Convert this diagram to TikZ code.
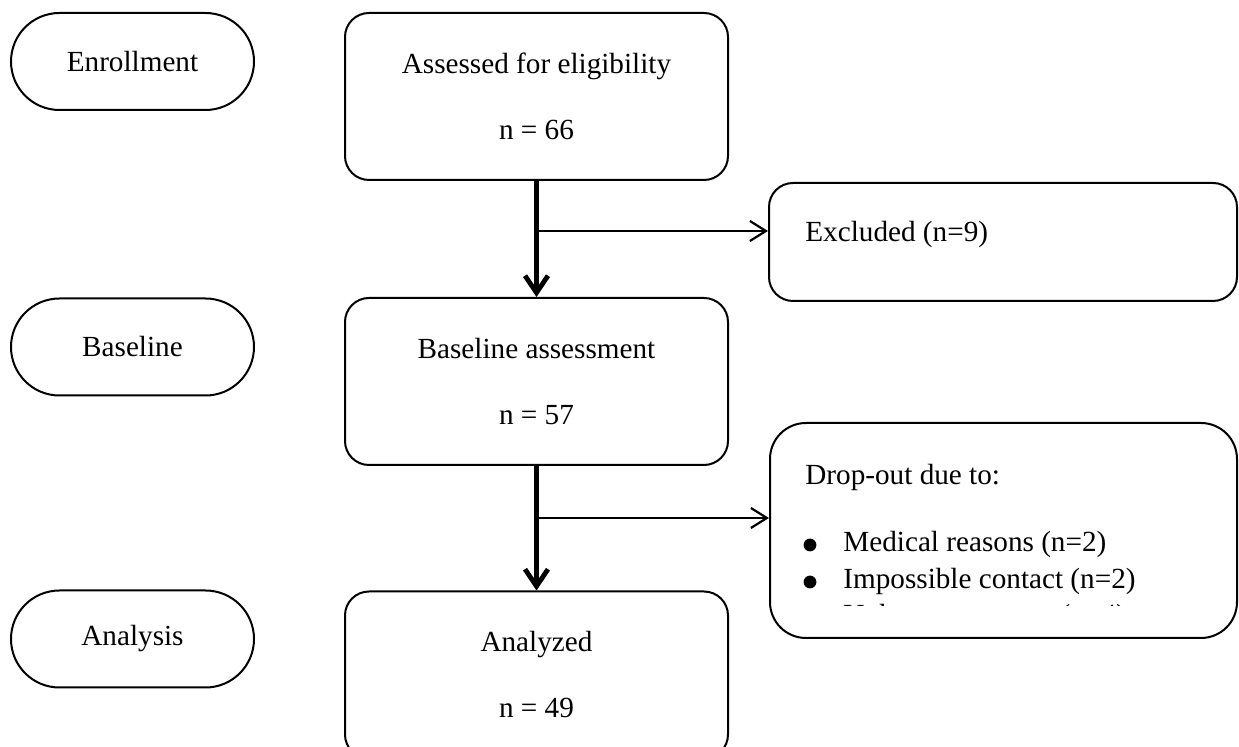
\documentclass[tikz,border=0pt]{standalone}
\usepackage{fontspec}
\setmainfont{Liberation Serif}
\usetikzlibrary{arrows.meta,shapes.misc}
\begin{document}
\begin{tikzpicture}[x=0.5pt,y=-0.5pt,
  every node/.style={font=\fontsize{14.6}{33}\selectfont, inner sep=0pt},
  stage/.style={draw, line width=1pt, rounded rectangle,
    minimum width=121.5pt, minimum height=48.5pt},
  mainbox/.style={draw, line width=1pt, rounded corners=12pt, align=center,
    minimum width=191.5pt, minimum height=83.5pt},
  sidebox/.style={draw, line width=1pt, rounded corners=12pt},
  flow/.style={line width=2.4pt, -{Straight Barb[length=8.5pt,width=11.5pt]}},
  branch/.style={line width=1.1pt, -{Straight Barb[length=8pt,width=10pt]}},
  dot/.style={circle, fill, minimum size=6.4pt}]
\useasboundingbox (0,0) rectangle (1239,747);
\begin{scope}
\clip (0,0) rectangle (1239,747);

% stage labels on the left
\node[stage] (enrol) at (132.5,61.5) {Enrollment};
\node[stage] (basestage) at (132.5,347) {Baseline};
\node[stage] (anastage) at (132.5,639) {Analysis};

% main flow boxes
\node[mainbox] (assess) at (536.5,96.5) {Assessed for eligibility\\n = 66};
\node[mainbox] (base) at (536.5,381.5) {Baseline assessment\\n = 57};
\node[mainbox] (analyzed) at (536.5,675) {Analyzed\\n = 49};

% side boxes
\node[sidebox, minimum width=234pt, minimum height=59pt] (excl) at (1003,242) {};
\node[sidebox, rounded corners=18pt, minimum width=233.5pt, minimum height=107.5pt] (drop) at (1003.5,530.5) {};

\node[anchor=base west] (excltext) at (805,241.7) {Excluded (n=9)};
\node[anchor=base west] (droptitle) at (805,485) {Drop-out due to:};
\node[dot] (d1) at (810,545) {};
\node[anchor=base west] (r1) at (843,551.7) {Medical reasons (n=2)};
\node[dot] (d2) at (810,582) {};
\node[anchor=base west] (r2) at (843,588.5) {Impossible contact (n=2)};
\begin{scope}
\clip (770,423) rectangle (1239,606);
\node[anchor=base west] (r3) at (843,625) {Unknown reasons (n=4)};
\end{scope}

% connectors
\draw[flow] (assess.south) -- (base.north);
\draw[flow] (base.south) -- (analyzed.north);
\coordinate (b1) at (536.5,231);
\coordinate (b2) at (536.5,518);
\draw[branch] (b1) -- (b1 -| excl.west);
\draw[branch] (b2) -- (b2 -| drop.west);
\end{scope}
\end{tikzpicture}
\end{document}
